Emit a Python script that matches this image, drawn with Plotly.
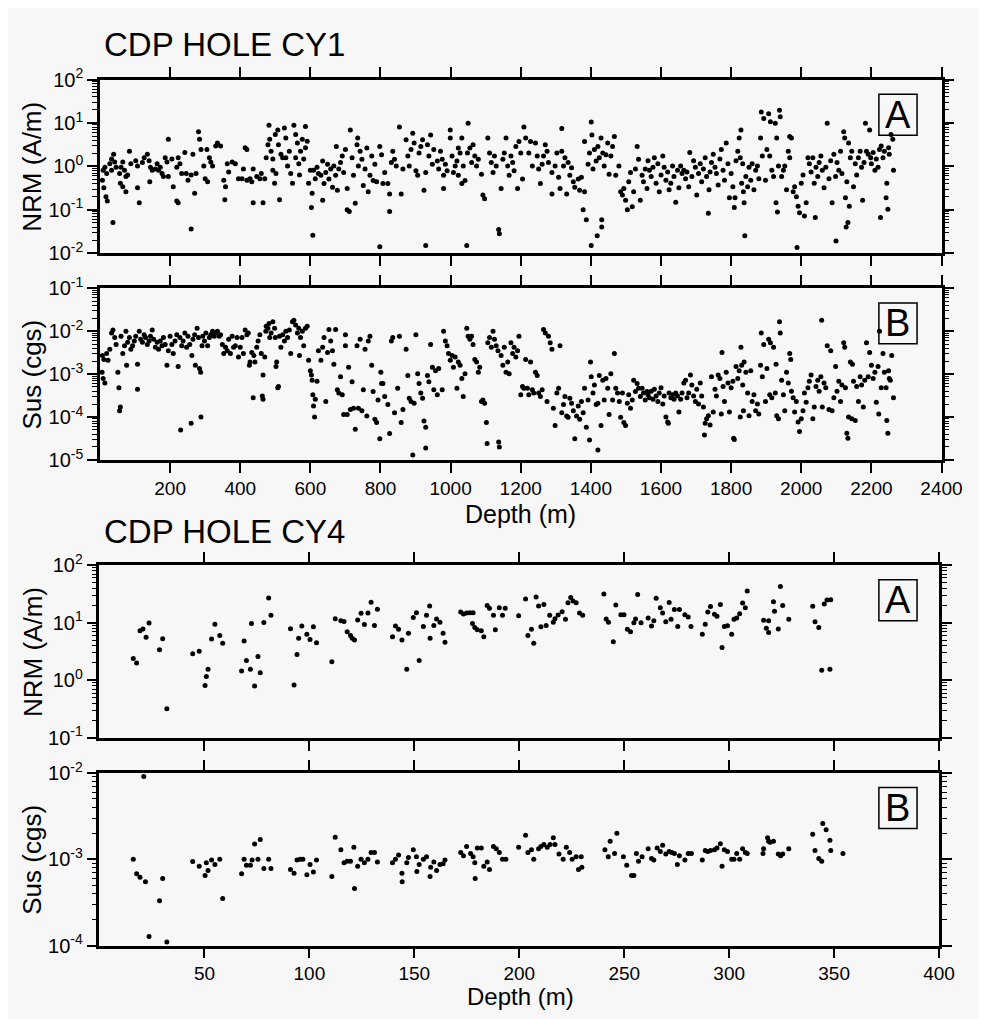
import plotly.graph_objects as go

# ---------------- DATA ----------------
# CDP hole CY1: (depth m, NRM A/m)
cy1_nrm_points = [
    (9,0.81),(14,0.95),(19,0.68),(7,0.48),(11,0.32),(17,0.2),(21,0.16),(37,0.051),(28,1.15),(33,1.48),
    (39,1.9),(42,1.26),(46,0.95),(33,0.81),(56,0.68),(60,0.95),(65,1.26),(70,0.81),(74,0.58),(58,0.41),
    (65,0.34),(74,0.26),(84,2.24),(79,0.63),(88,1.15),(102,1.35),(107,1.02),(112,0.145),(107,0.32),(121,1.23),
    (126,1.58),(135,1.9),(140,1.35),(144,0.95),(149,0.81),(142,0.44),(158,0.87),(163,1.15),(167,0.81),(172,0.95),
    (177,0.68),(181,0.58),(186,1.58),(191,1.26),(195,4.2),(195,0.58),(205,1.48),(209,0.34),(219,0.95),(219,0.16),
    (223,0.145),(223,1.58),(228,1.15),(233,0.68),(242,2.09),(246,0.68),(251,0.48),(260,0.036),(260,0.63),(265,1.9),
    (270,0.24),(274,0.68),(281,6.3),(284,4.2),(288,2.45),(296,1.02),(300,0.52),(305,2.45),(307,0.44),(312,1.58),
    (316,1.26),(321,1.02),(330,2.95),(335,3.47),(344,2.95),(353,0.48),(356,0.17),(358,0.34),(363,1.15),(367,0.74),
    (377,1.26),(386,1.15),(395,0.52),(405,0.52),(409,0.87),(414,2.69),(419,2.45),(419,0.48),(428,0.52),(433,0.44),
    (437,0.87),(437,0.145),(447,0.58),(456,0.52),(460,0.68),(465,0.145),(470,0.52),(474,1.58),(479,3.16),(482,8.9),
    (484,4.2),(488,2.24),(493,1.48),(493,0.81),(498,0.41),(500,5.4),(502,0.68),(507,6.9),(509,3.16),(512,0.17),
    (516,1.9),(521,1.58),(526,7.6),(530,4.5),(530,1.58),(535,1.02),(540,2.24),(544,0.68),(549,0.41),(553,8.9),
    (558,5.4),(558,1.58),(563,3.47),(567,1.15),(569,0.63),(572,2.24),(577,4.2),(581,1.48),(586,8.3),(586,2.69),
    (591,3.8),(595,0.41),(600,0.81),(603,0.112),(605,0.24),(607,0.026),(609,0.81),(614,0.52),(619,0.95),(623,0.68),
    (630,0.62),(635,1.32),(639,0.4),(635,0.166),(644,0.72),(649,1.12),(653,0.51),(658,0.87),(663,0.33),(667,1.02),
    (672,0.62),(674,2.88),(677,0.28),(681,0.87),(686,1.23),(691,1.74),(695,0.72),(700,2.45),(705,0.31),(705,0.1),
    (711,0.091),(714,6.9),(719,1.58),(723,0.62),(728,0.141),(733,3.16),(735,4.5),(737,1.02),(742,2.24),(747,1.45),
    (751,0.36),(756,0.87),(761,2.63),(765,0.26),(770,0.62),(775,1.74),(779,0.47),(784,1.12),(789,0.44),(798,2.88),
    (798,0.014),(803,1.86),(807,0.4),(812,0.72),(821,0.4),(826,0.23),(826,0.091),(831,1.23),(835,2.24),(840,1.45),
    (845,1.02),(854,8.1),(859,0.23),(864,0.87),(873,4.1),(878,1.74),(882,1.02),(887,2.45),(892,5.75),(896,3.47),
    (901,0.79),(906,0.62),(910,2.04),(915,2.88),(920,4.1),(924,0.28),(929,0.015),(929,0.72),(934,3.16),(938,1.74),
    (943,5.25),(948,1.12),(952,2.45),(962,1.32),(966,0.87),(971,2.24),(976,1.45),(980,0.62),(980,0.31),(985,1.12),
    (990,0.79),(999,6.9),(999,4.5),(1004,1.74),(1008,0.72),(1013,1.02),(1018,1.32),(1022,2.63),(1022,0.62),(1027,2.04),
    (1032,4.5),(1032,0.4),(1036,1.02),(1041,0.47),(1046,0.015),(1048,2.04),(1050,9.8),(1055,2.63),(1060,1.23),(1064,3.16),
    (1069,1.74),(1074,1.02),(1079,1.45),(1088,0.66),(1092,0.22),(1097,0.18),(1106,4.5),(1111,2.04),(1116,1.23),(1121,0.72),
    (1125,1.74),(1130,1.02),(1137,0.035),(1139,0.028),(1144,0.31),(1149,1.45),(1153,2.04),(1158,4.5),(1163,1.02),(1167,0.62),
    (1172,1.74),(1177,1.23),(1181,0.79),(1186,2.88),(1191,0.31),(1195,3.72),(1200,2.04),(1205,0.51),(1209,8.1),(1214,4.5),
    (1223,2.04),(1228,3.72),(1233,1.02),(1242,3.47),(1247,1.74),(1251,0.87),(1256,0.4),(1261,1.12),(1265,1.74),(1270,3.16),
    (1275,2.24),(1279,1.23),(1289,0.72),(1289,0.23),(1298,1.02),(1303,2.04),(1308,0.56),(1312,0.31),(1317,7.4),(1317,2.24),
    (1322,1.02),(1326,1.58),(1331,0.23),(1335,1.23),(1340,0.62),(1345,0.93),(1350,0.44),(1354,0.33),(1364,0.51),(1368,0.28),
    (1373,0.56),(1378,0.1),(1382,3.72),(1382,0.26),(1387,0.059),(1392,1.12),(1396,2.04),(1401,10.5),(1401,0.015),(1403,5.25),
    (1406,0.87),(1410,2.45),(1415,1.32),(1418,0.025),(1420,2.88),(1424,1.58),(1429,4.5),(1431,0.059),(1431,0.04),(1434,2.04),
    (1438,1.02),(1443,1.86),(1448,3.47),(1452,0.66),(1457,1.74),(1462,2.88),(1467,4.9),(1471,0.62),(1480,1.02),(1485,0.26),
    (1490,0.22),(1494,0.31),(1499,0.166),(1504,0.1),(1508,0.44),(1513,0.72),(1518,0.117),(1522,0.26),(1527,0.87),(1532,2.88),
    (1536,1.45),(1541,0.166),(1546,0.62),(1550,0.44),(1555,0.87),(1560,0.31),
    (1563,1.35),(1567,0.81),(1572,0.58),(1577,0.95),(1581,1.58),(1586,0.41),(1591,1.15),(1595,0.26),(1600,0.63),(1605,1.74),
    (1609,0.95),(1614,0.48),(1619,0.74),(1623,0.29),(1628,0.41),(1633,1.02),(1637,0.58),(1642,0.148),(1647,0.81),(1651,0.32),
    (1656,1.02),(1660,0.68),(1665,0.81),(1670,0.52),(1674,0.74),(1679,0.34),(1682,2.09),(1688,0.58),(1693,1.35),(1698,0.95),
    (1702,0.22),(1707,0.68),(1712,1.15),(1716,0.44),(1721,0.87),(1726,1.58),(1730,0.58),(1735,0.083),(1737,0.29),(1740,0.74),
    (1744,1.23),(1749,1.9),(1754,0.95),(1758,0.68),(1763,0.37),(1768,1.48),(1772,2.45),(1777,0.81),(1781,0.48),(1786,3.47),
    (1791,1.15),(1795,0.19),(1800,0.68),(1805,0.34),(1809,0.112),(1811,0.19),(1814,1.35),(1819,2.24),(1823,4.5),(1826,1.58),
    (1828,6.9),(1830,0.41),(1833,1.15),(1835,0.26),(1837,0.145),(1839,0.025),(1842,0.58),(1847,0.34),(1851,0.95),(1856,0.48),
    (1860,1.15),(1865,0.29),(1870,0.81),(1875,1.02),(1879,0.52),(1884,4.5),(1886,17.8),(1889,1.74),(1893,12.6),(1898,0.48),
    (1902,2.45),(1907,16.2),(1910,1.74),(1912,10.7),(1916,0.81),(1921,0.58),(1926,9.8),(1928,0.145),(1930,4.5),(1932,0.089),
    (1935,1.02),(1938,19.5),(1940,13.8),(1944,0.58),(1949,0.81),(1953,1.02),(1958,0.29),(1963,2.24),(1967,1.58),(1967,4.9),
    (1972,4.5),(1977,0.26),(1981,0.34),(1986,0.2),(1988,0.0135),(1991,0.12),(1995,0.085),(2000,0.41),(2005,0.63),(2009,0.072),
    (2014,0.145),(2019,1.58),(2023,1.15),(2028,0.74),(2033,1.58),(2037,0.41),(2040,0.066),(2042,0.95),(2047,0.58),(2051,1.23),
    (2056,1.74),(2060,0.81),(2065,0.32),(2070,0.95),(2074,9.8),(2079,0.52),(2084,1.35),(2088,0.145),(2093,1.9),(2098,0.58),
    (2099,0.019),(2102,1.23),(2107,0.81),(2112,2.24),(2116,0.68),(2121,6.3),(2124,4.5),(2126,0.19),(2128,0.04),(2130,0.44),
    (2133,0.051),(2135,3.47),(2137,0.12),(2140,1.58),(2144,2.24),(2149,0.34),(2154,1.15),(2158,0.63),(2163,1.58),(2168,2.24),
    (2172,0.95),(2175,0.166),(2179,1.23),(2183,9.8),(2186,2.24),(2191,1.9),(2195,6.9),(2198,1.58),(2200,1.15),(2205,2.09),
    (2210,0.81),(2214,1.48),(2219,0.95),(2223,2.45),(2226,0.066),(2228,2.95),(2233,1.58),(2237,2.24),(2242,0.19),(2244,0.41),
    (2247,0.102),(2249,2.69),(2251,1.9),(2256,5.4),(2261,4.2),(2263,0.81),
]

# CDP hole CY1: (depth m, susceptibility cgs)
cy1_sus_points = [
    (7,2.7e-3),(11,2.2e-3),(6,1.1e-3),(9,7.9e-4),(14,6.2e-4),(19,3.0e-3),(23,2.1e-3),(28,3.8e-3),(33,9.1e-3),(37,1.07e-2),
    (42,7.1e-3),(46,4.9e-3),(51,1.1e-3),(54,4.8e-4),(56,1.4e-4),(58,1.7e-4),(60,7.6e-3),(65,3.0e-3),(70,4.6e-3),(74,1.0e-2),
    (76,1.6e-3),(79,5.5e-3),(84,7.1e-3),(88,3.8e-3),(93,4.6e-3),(98,5.9e-3),(102,7.6e-3),(107,1.7e-3),(107,4.4e-4),(112,1.0e-2),
    (116,6.5e-3),(121,5.5e-3),(126,8.3e-3),(130,7.1e-3),(135,4.9e-3),(140,5.9e-3),(144,7.6e-3),(149,1.07e-2),(153,6.5e-3),(158,4.2e-3),
    (163,5.5e-3),(167,3.8e-3),(172,5.9e-3),(177,4.6e-3),(181,7.1e-3),(186,4.9e-3),(191,1.6e-3),(195,3.5e-3),(200,7.6e-3),(205,4.9e-3),
    (209,3.0e-3),(214,5.9e-3),(219,8.3e-3),(223,1.5e-3),(228,7.1e-3),(230,5.0e-5),(233,4.6e-3),(237,5.9e-3),(242,9.1e-3),(247,4.2e-3),
    (251,7.6e-3),(256,4.9e-3),(260,7.1e-5),(262,2.7e-3),(265,6.5e-3),(270,8.3e-3),(272,1.6e-3),(277,1.17e-2),(281,7.1e-3),(284,1.35e-3),
    (287,1.1e-3),(288,1.0e-4),(291,4.6e-3),(293,7.6e-3),(298,5.9e-3),(302,9.1e-3),(307,4.6e-3),(312,7.1e-3),(316,8.3e-3),(321,1.0e-2),
    (326,7.6e-3),(330,9.1e-3),(335,1.0e-2),(340,7.6e-3),(344,8.3e-3),(349,4.9e-3),(353,3.0e-3),(358,4.2e-3),(363,3.5e-3),(367,6.5e-3),
    (372,3.0e-3),(377,7.6e-3),(381,4.2e-3),(386,4.6e-3),(391,7.1e-3),(395,2.5e-3),(400,4.2e-3),(405,7.1e-3),(409,3.0e-3),(414,1.07e-2),
    (419,8.3e-3),(423,9.1e-3),(426,1.6e-3),(428,1.9e-3),(433,3.2e-3),(437,2.8e-4),(439,2.7e-3),(442,1.9e-3),(447,4.2e-3),(451,5.9e-3),
    (456,8.3e-3),(460,3.0e-3),(463,3.1e-4),(465,2.6e-4),(465,9.5e-4),(470,2.5e-3),(473,1.0e-2),(474,1.3e-2),(479,1.17e-2),(482,1.5e-2),
    (484,7.1e-3),(488,9.1e-3),(493,1.66e-2),(498,1.17e-2),(500,7.1e-3),(502,1.5e-3),(504,1.9e-3),(507,4.8e-4),(509,5.1e-4),(512,7.6e-3),
    (516,4.2e-3),(521,8.3e-3),(526,5.9e-3),(530,1.0e-2),(535,7.1e-3),(540,1.07e-2),(544,3.0e-3),(549,1.66e-2),(553,1.8e-2),(558,1.4e-2),
    (563,9.1e-3),(567,1.17e-2),(569,2.7e-3),(572,7.1e-3),(577,1.0e-2),(581,4.6e-3),(586,1.17e-2),(591,1.3e-2),(595,2.1e-3),(600,1.2e-3),
    (603,9.5e-4),(605,7.2e-4),(607,3.3e-4),(609,1.8e-4),(612,1.0e-4),(614,2.6e-4),(619,6.8e-4),(623,3.5e-3),
    (630,2.1e-3),(635,4.2e-3),(639,7.1e-3),(644,2.3e-4),(649,3.2e-3),(653,1.1e-2),(658,5.9e-3),(663,3.5e-3),(667,1.7e-3),(672,1.1e-2),
    (677,4.3e-4),(681,3.6e-4),(686,8.7e-4),(691,3.3e-4),(695,1.15e-4),(700,8.3e-3),(700,4.6e-3),(705,1.15e-4),(709,1.45e-3),(714,1.5e-4),
    (719,6.6e-4),(723,1.6e-4),(728,5.2e-5),(733,4.6e-3),(737,1.6e-4),(742,6.5e-3),(747,1.4e-4),(751,4.3e-4),(756,3.8e-3),(761,1.05e-4),
    (765,5.9e-3),(770,7.6e-3),(775,1.6e-3),(779,3.9e-4),(784,8.9e-5),(789,7.4e-5),(793,2.5e-4),(798,3.1e-5),(801,1.1e-3),(803,6.0e-4),
    (807,6.0e-4),(812,3.0e-4),(821,1.95e-4),(826,4.1e-5),(831,5.9e-3),(835,7.1e-3),(840,1.26e-4),(849,4.7e-4),(854,7.6e-3),(859,7.4e-5),
    (864,1.5e-4),(873,3.8e-3),(878,9.3e-4),(882,2.75e-4),(887,2.3e-4),(892,1.3e-5),(896,2.1e-4),(901,8.3e-3),(906,1.02e-3),(910,6.0e-4),
    (915,3.6e-4),(920,2.75e-4),(924,8.1e-5),(929,1.9e-5),(929,5.8e-5),(934,9.3e-4),(938,6.6e-4),(943,4.9e-3),(948,1.45e-3),(952,4.3e-4),
    (957,1.2e-3),(962,3.3e-4),(966,1.35e-3),(976,4.3e-4),(980,1.0e-2),(985,5.9e-3),(990,4.6e-3),(994,3.0e-3),(999,2.1e-3),(1004,2.7e-3),
    (1008,1.45e-3),(1013,2.5e-3),(1018,4.7e-4),(1022,1.9e-3),(1027,1.6e-3),(1032,7.9e-4),(1036,3.0e-4),(1041,1.02e-3),(1046,1.17e-2),(1050,7.6e-3),
    (1055,6.5e-3),(1060,7.6e-3),(1064,4.9e-3),(1069,2.2e-3),(1074,1.9e-3),(1079,1.1e-3),(1083,1.45e-3),(1088,2.3e-4),(1092,2.5e-4),(1097,2.1e-4),
    (1102,7.4e-5),(1104,2.4e-5),(1106,5.4e-3),(1111,7.1e-3),(1116,4.2e-3),(1121,1.0e-2),(1125,6.5e-3),(1130,4.6e-3),(1135,3.5e-3),(1137,2.6e-5),
    (1139,2.0e-5),(1144,2.7e-3),(1149,1.6e-3),(1153,4.2e-3),(1158,1.1e-3),(1163,1.9e-3),(1167,1.02e-3),(1172,5.4e-3),(1177,3.0e-3),(1181,4.2e-3),
    (1186,2.5e-3),(1191,3.5e-3),(1195,7.6e-3),(1200,3.3e-4),(1205,5.1e-4),(1209,4.7e-4),(1214,2.2e-3),(1219,4.7e-4),(1223,3.3e-4),(1228,1.9e-3),
    (1233,4.3e-4),(1237,3.6e-4),(1242,1.1e-3),(1247,9.3e-4),(1251,3.6e-4),(1256,3.0e-4),(1261,4.3e-4),(1265,1.1e-2),(1270,9.1e-3),(1275,2.3e-4),
    (1279,7.6e-3),(1284,5.4e-3),(1289,3.8e-3),(1293,1.6e-4),(1298,6.3e-5),(1303,3.6e-4),(1308,4.7e-4),(1312,4.6e-3),(1317,1.26e-4),(1322,1.95e-4),
    (1326,3.0e-4),(1331,1.05e-4),(1335,9.8e-5),(1340,2.75e-4),(1345,2.1e-4),(1350,1.4e-4),(1354,3.1e-5),(1359,1.05e-4),(1364,1.8e-4),(1368,8.9e-5),
    (1373,2.3e-4),(1378,1.26e-4),(1382,4.7e-4),(1387,5.8e-5),(1392,2.5e-4),(1396,2.9e-5),(1399,1.9e-3),(1401,8.7e-4),(1406,3.6e-4),(1410,5.6e-4),
    (1415,1.95e-4),(1420,1.7e-5),(1420,2.1e-4),(1424,9.3e-4),(1429,6.3e-5),(1434,7.2e-4),(1438,2.5e-4),(1443,7.9e-4),(1448,4.7e-4),(1452,1.15e-4),
    (1457,1.02e-3),(1462,2.5e-4),(1467,3.0e-3),(1471,4.7e-4),(1476,3.6e-4),(1481,2.3e-4),(1485,9.8e-5),(1490,3.6e-4),(1494,7.4e-5),(1499,6.3e-5),
    (1504,2.1e-4),(1508,3.3e-4),(1513,1.6e-4),(1518,2.5e-4),(1522,7.2e-4),(1527,3.9e-4),(1532,6.0e-4),(1536,4.7e-4),(1541,3.0e-4),(1546,4.7e-4),
    (1550,3.6e-4),(1555,2.5e-4),(1560,3.9e-4),
    (1563,3.3e-4),(1567,2.8e-4),(1572,4.0e-4),(1577,2.6e-4),(1581,4.4e-4),(1586,3.1e-4),(1591,2.3e-4),(1595,3.6e-4),(1600,4.8e-4),(1605,2.0e-4),
    (1609,3.1e-4),(1614,1.0e-4),(1619,7.6e-5),(1621,7.1e-5),(1623,3.6e-4),(1628,2.8e-4),(1633,3.3e-4),(1637,2.6e-4),(1642,3.6e-4),(1647,3.1e-4),
    (1651,1.3e-4),(1656,2.6e-4),(1660,3.6e-4),(1665,6.2e-4),(1670,7.2e-4),(1674,2.8e-4),(1679,3.6e-4),(1684,9.5e-4),(1688,5.6e-4),(1693,3.1e-4),
    (1698,2.3e-4),(1702,4.4e-4),(1707,2.0e-4),(1712,6.2e-4),(1716,3.1e-4),(1721,1.7e-4),(1724,3.8e-5),(1726,7.1e-5),(1730,9.1e-5),(1735,1.07e-4),
    (1740,6.5e-5),(1744,8.7e-4),(1749,1.3e-4),(1754,4.4e-4),(1758,3.1e-4),(1763,9.5e-4),(1768,7.9e-4),(1772,1.17e-4),(1774,3.2e-3),(1777,5.1e-4),
    (1781,2.3e-4),(1786,1.1e-3),(1791,6.2e-4),(1795,1.3e-4),(1800,4.8e-4),(1805,6.8e-4),(1807,3.2e-5),(1809,3.0e-5),(1814,1.5e-3),(1819,7.9e-4),
    (1823,1.2e-3),(1826,1.0e-4),(1828,4.2e-3),(1830,1.6e-3),(1833,5.6e-4),(1835,1.4e-4),(1837,1.9e-3),(1842,1.1e-3),(1847,3.6e-4),(1851,1.07e-4),
    (1856,1.2e-3),(1860,2.3e-4),(1865,3.3e-4),(1870,1.4e-4),(1875,2.0e-4),(1879,1.17e-4),(1884,1.6e-3),(1886,9.1e-3),(1889,8.7e-4),(1893,4.9e-3),
    (1898,2.3e-4),(1902,1.35e-3),(1907,6.5e-3),(1910,3.3e-4),(1912,5.4e-3),(1916,2.8e-4),(1921,4.2e-3),(1926,3.6e-4),(1928,1.7e-3),(1930,1.07e-4),
    (1935,9.1e-5),(1938,1.66e-2),(1940,9.1e-3),(1944,7.2e-4),(1949,3.3e-4),(1953,1.4e-4),(1958,1.1e-3),(1963,6.2e-4),(1967,3.0e-3),(1970,2.2e-3),
    (1972,4.0e-4),(1977,2.8e-4),(1981,1.3e-4),(1986,2.3e-4),(1991,7.6e-5),(1995,4.6e-5),(2000,9.1e-5),(2005,1.4e-4),(2009,3.6e-4),(2014,2.2e-4),
    (2019,4.8e-4),(2023,6.8e-4),(2028,9.5e-4),(2033,9.1e-5),(2037,1.7e-4),(2042,5.1e-4),(2047,7.2e-4),(2051,4.0e-4),(2056,8.7e-4),(2058,1.8e-2),
    (2060,1.7e-4),(2065,6.2e-4),(2070,4.8e-4),(2074,4.6e-3),(2079,1.5e-4),(2084,3.5e-3),(2088,1.4e-4),(2093,2.8e-4),(2098,1.5e-3),(2102,4.0e-4),
    (2107,6.8e-4),(2112,2.3e-4),(2116,5.6e-4),(2121,5.4e-3),(2124,4.2e-3),(2126,4.8e-4),(2130,4.2e-5),(2133,3.2e-5),(2135,1.0e-4),(2140,1.9e-3),
    (2144,9.1e-5),(2146,1.7e-3),(2149,6.8e-4),(2154,8.3e-5),(2158,5.1e-4),(2163,2.3e-4),(2168,8.7e-4),(2172,5.6e-4),(2177,1.7e-4),(2181,7.2e-4),
    (2186,5.4e-3),(2191,8.7e-4),(2195,3.2e-3),(2200,1.6e-3),(2205,7.9e-4),(2210,1.1e-3),(2214,2.2e-4),(2219,1.5e-3),(2221,1.17e-4),(2223,1.0e-2),
    (2228,4.8e-4),(2233,3.0e-3),(2237,1.1e-3),(2242,4.8e-4),(2244,8.3e-5),(2247,4.2e-5),(2249,1.2e-3),(2251,7.9e-4),(2254,7.2e-4),(2258,2.7e-3),
    (2263,2.8e-4),
]

# CDP hole CY4: (depth m, NRM A/m)
cy4_nrm_points = [
    (16.1,2.4),(17.7,2.0),(19.3,7.3),(20.7,7.8),(22.2,5.6),(23.6,9.9),(28.6,3.4),(30.1,5.3),(32.1,0.32),(44.4,2.9),
    (47.5,3.2),(50.3,0.81),(50.9,1.17),(51.7,1.55),(53.4,5.2),(55.0,9.4),(57.3,6.0),(58.7,4.4),(67.7,1.45),(68.9,4.8),
    (70.0,2.2),(71.9,1.55),(72.4,9.7),(73.9,0.8),(75.5,2.6),(76.6,1.35),(78.3,10.1),(80.6,27),(81.7,13.5),(91.0,7.9),
    (92.7,0.83),(94.1,2.8),(94.9,5.4),(96.4,8.8),(98.8,6.3),(100.3,5.1),(101.9,8.5),(103.4,4.5),
    (110.7,2.1),(112.3,11.8),(115,10.8),(116.5,10.5),(118,7.0),(119.6,6.0),(120.4,5.4),(121.5,5.0),(123,11.2),(124.6,14.6),
    (126.2,9.3),(127.9,14.8),(129.4,22.7),(131,9.0),(132.4,17.1),(139.6,5.7),(141,8.8),(142.5,7.7),(144.1,5.0),(146.4,1.55),
    (147.2,6.6),(149.5,12.3),(151,15.0),(152.3,2.2),(154.3,8.6),(155.8,13.5),(157.3,19.5),(157.5,5.4),(159.3,9.0),(160.6,11.6),
    (162.2,10.2),(163.7,6.6),(164.6,4.6),(172.1,15.4),(173.4,14.2),(174.9,14.8),(176.5,15.0),(178,15.0),(177.7,9.7),(178.8,8.3),
    (180,7.6),(181.9,7.3),(183.1,5.7),(184.7,20),(185.8,17.8),(187.7,13.5),(188.6,7.6),(190.5,18.3),(192,13.5),(193.3,17.8),
    (199.7,13.2),(203,26),(204.1,6.0),(205.8,7.7),(206.9,4.4),(208,28),(209.2,19.5),(210.3,8.5),(211.7,20.8),(212.8,9.0),
    (214.5,13.5),(216.2,10.2),(217,11.8),(218.5,13.7),(220.4,15.6),(222,11.5),(223.2,22.2),(224.5,27.6),(225.6,23.8),(227.1,22.2),
    (228.7,14.8),(230.2,13.5),(240.3,31.6),(241.4,11.6),(242.5,10.2),(244.8,4.7),(246,20.3),(248.4,13.8),(249.9,13.8),(251.5,7.7),
    (253,7.0),(254.6,10.0),(255.4,11.6),(256.4,31),(258,10.0),
    (261.4,12.1),(263,8.8),(264.1,10.8),(265.2,26.8),(267.2,18.2),(268.3,14.8),(269.8,10.4),(271.4,22.6),(272.3,11.5),(273.9,17.0),
    (275.5,8.6),(276.3,17.0),(278.9,13.8),(280.5,12.6),(281.8,8.6),(287.2,6.3),(288.6,9.4),(289.8,15.4),(291.1,19.1),(293,14.0),
    (294.2,13.0),(295.8,20.7),(296.6,3.7),(297.7,8.6),(299.2,8.9),(301.2,6.3),(302.3,11.5),(303.6,12.1),(305,14.4),(306.4,22),
    (307.7,18.2),(308.6,35.6),(316.4,11.1),(317.7,8.0),(318.8,10.8),(318.8,6.8),(321.1,23.3),(321.6,15.8),(323.4,7.8),(324.4,42.5),
    (325.5,19.9),(328.4,11.5),(339.8,19.4),(340.9,10.4),(342.7,8.3),(345.3,21.2),(346.6,24.8),(348.4,25),(344.1,1.5),(348,1.55),
]

# CDP hole CY4: (depth m, susceptibility cgs)
cy4_sus_points = [
    (16.1,1.0e-3),(17.7,6.8e-4),(19.3,6.2e-4),(21.9,5.5e-4),(23.6,1.27e-4),(28.6,3.3e-4),(30.1,6.0e-4),(32.1,1.1e-4),(21.1,9.1e-3),(44.4,9.4e-4),
    (47.5,8.3e-4),(50.3,6.5e-4),(50.9,9.1e-4),(51.7,7.4e-4),(53.4,9.8e-4),(55,8.7e-4),(57.3,1.0e-3),(58.7,3.5e-4),(67.7,6.8e-4),(68.9,1.0e-3),
    (70,8.5e-4),(71.9,8.5e-4),(72.7,9.8e-4),(73.9,1.5e-3),(75.5,1.0e-3),(76.6,1.7e-3),(78.3,7.8e-4),(80.6,1.0e-3),(81.7,7.8e-4),(91,7.6e-4),
    (92.7,6.9e-4),(94.1,9.8e-4),(95.6,1.0e-3),(96.9,1.0e-3),(98.8,6.6e-4),(100.3,8.7e-4),(101.9,7.1e-4),(103.4,9.8e-4),
    (110.7,6.3e-4),(112.3,1.8e-3),(115,1.29e-3),(116.5,9.1e-4),(118,9.5e-4),(119.6,9.5e-4),(121.2,1.38e-3),(121.5,4.6e-4),(123,8.3e-4),(124.6,1.0e-3),
    (126.2,9.1e-4),(127.9,1.0e-3),(129.4,1.2e-3),(131,1.2e-3),(132.4,9.3e-4),(139.6,9.1e-4),(141,1.0e-3),(142.5,1.12e-3),(144.1,6.9e-4),(144.2,5.5e-4),
    (146.4,9.1e-4),(147.2,1.05e-3),(149.5,1.29e-3),(151,1.07e-3),(151.2,7.2e-4),(152.3,8.7e-4),(154.3,1.0e-3),(155.8,1.07e-3),(157.5,6.3e-4),(157.8,8.1e-4),
    (159.3,9.3e-4),(160.6,7.4e-4),(162.2,8.7e-4),(163.7,8.9e-4),(164.6,9.8e-4),(172.1,1.2e-3),(173.4,1.1e-3),(174.9,1.41e-3),(176.8,1.17e-3),(178,1.07e-3),
    (178.8,9.1e-4),(179,6.0e-4),(180,1.35e-3),(181.9,1.35e-3),(183.1,8.3e-4),(184.7,9.3e-4),(185.8,7.6e-4),(187.7,1.41e-3),(189,1.32e-3),(190.5,1.2e-3),
    (192,1.0e-3),(193.6,1.0e-3),(199.7,1.38e-3),(203,1.9e-3),(204.1,1.2e-3),(205.8,1.29e-3),(206.9,1.0e-3),(209.2,1.32e-3),(210.3,1.41e-3),(211.7,1.48e-3),
    (213.3,1.38e-3),(214.7,1.48e-3),(216.2,1.78e-3),(217,1.48e-3),(218.9,1.15e-3),(220.9,1.0e-3),(222.4,1.38e-3),(224,1.2e-3),(225.2,1.0e-3),(227.1,1.07e-3),
    (228.2,7.6e-4),(229.8,8.1e-4),(229.5,1.07e-3),(240.8,1.29e-3),(243.3,1.62e-3),(242.4,1.07e-3),(245.4,1.17e-3),(246.5,2.0e-3),(249.6,1.07e-3),(251.2,8.5e-4),
    (253.5,6.5e-4),(254.6,6.5e-4),(255.8,1.17e-3),(256.8,9.5e-4),(258.5,1.07e-3),
    (261.4,1.32e-3),(263,1.02e-3),(264.1,9.8e-4),(265.7,1.35e-3),(267.2,1.23e-3),(268.3,1.45e-3),(269.8,1.15e-3),(271.4,1.23e-3),(272.7,1.2e-3),(273.9,1.17e-3),
    (275.3,8.7e-4),(276.3,1.1e-3),(278.9,9.8e-4),(280.5,1.17e-3),(282,1.17e-3),(287.2,9.8e-4),(288.6,1.26e-3),(289.8,1.23e-3),(291.1,1.26e-3),(293,1.29e-3),
    (294.2,1.35e-3),(295.8,1.51e-3),(296.6,8.3e-4),(297.7,1.29e-3),(299.2,1.23e-3),(301.2,1.0e-3),(302.3,1.0e-3),(303.6,1.17e-3),(305,1.0e-3),(306.4,1.32e-3),
    (307.7,1.2e-3),(308.6,1.17e-3),(316.1,1.17e-3),(316.4,1.32e-3),(318.3,1.78e-3),(319.5,1.58e-3),(321.1,1.62e-3),(318.8,1.62e-3),(323.4,1.15e-3),(324.5,1.1e-3),
    (325.5,1.15e-3),(328.4,1.32e-3),(339.8,1.95e-3),(340.9,1.26e-3),(342.7,1.02e-3),(344.1,9.5e-4),(344.6,2.6e-3),(346.2,2.2e-3),(348,1.66e-3),(348.4,1.26e-3),
    (354.2,1.17e-3),
]

# axis tick values / labels
cy1_depth_ticks = [200, 400, 600, 800, 1000, 1200, 1400, 1600, 1800, 2000, 2200, 2400]
cy4_depth_ticks = [50, 100, 150, 200, 250, 300, 350, 400]
nrm1_decades = [-2, -1, 0, 1, 2]
sus1_decades = [-5, -4, -3, -2, -1]
nrm4_decades = [-1, 0, 1, 2]
sus4_decades = [-4, -3, -2]

# ---------------- LAYOUT CONSTANTS ----------------
# the page body adds an 8 px margin, so the figure starts at (8, 8) in the screenshot
OFF = 8
W, H = 978, 1011
BG = "#f7f7f7"
FONT = "Liberation Sans, Arial, Helvetica, sans-serif"


def fx(p):
    return (p - OFF) / W


def fy(p):
    return 1 - (p - OFF) / H


def decade_ticks(decs):
    vals = [10.0 ** d for d in decs]
    text = ["10<sup>%d</sup>" % d for d in decs]
    minor = [k * 10.0 ** d for d in decs[:-1] for k in range(2, 10)]
    return vals, text, minor


# panel pixel boxes in screenshot coordinates: (left, right, top, bottom)
panels = [
    dict(box=(102, 962, 67, 245), pts=cy1_nrm_points, xr=[0, 2400], xt=cy1_depth_ticks, dec=nrm1_decades, lab=False, so=0),
    dict(box=(102, 962, 281, 457), pts=cy1_sus_points, xr=[0, 2400], xt=cy1_depth_ticks, dec=sus1_decades, lab=True, so=0),
    dict(box=(101.5, 959.5, 565, 742), pts=cy4_nrm_points, xr=[0, 400], xt=cy4_depth_ticks, dec=nrm4_decades, lab=False, so=0),
    dict(box=(101.5, 959.5, 778, 955), pts=cy4_sus_points, xr=[0, 400], xt=cy4_depth_ticks, dec=sus4_decades, lab=True, so=-1),
]

fig = go.Figure()
layout_axes = {}
for i, p in enumerate(panels, start=1):
    l, r, t, b = p["box"]
    sfx = "" if i == 1 else str(i)
    xs = [q[0] for q in p["pts"]]
    ys = [q[1] for q in p["pts"]]
    fig.add_trace(go.Scatter(
        x=xs, y=ys, mode="markers",
        marker=dict(size=5, color="black", line=dict(width=0)),
        xaxis="x" + sfx, yaxis="y" + sfx, showlegend=False, hoverinfo="skip",
    ))
    vals, text, minor = decade_ticks(p["dec"])
    layout_axes["xaxis" + sfx] = dict(
        domain=[fx(l), fx(r)], range=p["xr"], anchor="y" + sfx,
        tickmode="array", tickvals=p["xt"], ticktext=[str(v) for v in p["xt"]],
        showticklabels=p["lab"], ticks="outside", ticklen=10, tickwidth=1.5, tickcolor="black",
        ticklabelstandoff=p["so"],
        showline=True, linewidth=2.5, linecolor="black", mirror="ticks",
        showgrid=False, zeroline=False,
        tickfont=dict(family=FONT, size=19, color="black"),
    )
    layout_axes["yaxis" + sfx] = dict(
        domain=[fy(b), fy(t)], type="log", range=[p["dec"][0], p["dec"][-1]], anchor="x" + sfx,
        tickmode="array", tickvals=vals, ticktext=text,
        ticks="outside", ticklen=10, tickwidth=1.5, tickcolor="black",
        minor=dict(tickmode="array", tickvals=minor, ticks="outside", ticklen=5, tickwidth=1, tickcolor="black", showgrid=False),
        showline=True, linewidth=2.5, linecolor="black", mirror="ticks",
        showgrid=False, zeroline=False,
        tickfont=dict(family=FONT, size=20, color="black"),
    )

annotations = []
shapes = []


def text_ann(txt, x, y, size, xanchor="center", angle=0):
    annotations.append(dict(
        text=txt, x=fx(x), y=fy(y), xref="paper", yref="paper",
        xanchor=xanchor, yanchor="middle", showarrow=False, textangle=angle,
        font=dict(family=FONT, size=size, color="black"),
    ))


text_ann("CDP HOLE CY1", 104, 31, 33, xanchor="left")
text_ann("CDP HOLE CY4", 104, 530, 33, xanchor="left")
text_ann("Depth (m)", 532, 512, 25)
text_ann("Depth (m)", 532, 1007, 24)
for p, name in zip(panels, ["NRM (A/m)", "Sus (cgs)", "NRM (A/m)", "Sus (cgs)"]):
    l, r, t, b = p["box"]
    text_ann(name, 33, (t + b) / 2, 26, angle=-90)

for p, letter in zip(panels, ["A", "B", "A", "B"]):
    l, r, t, b = p["box"]
    shapes.append(dict(type="rect", xref="paper", yref="paper",
                       x0=fx(898), x1=fx(937), y0=fy(t + 57), y1=fy(t + 15),
                       line=dict(color="black", width=1.5), fillcolor="rgba(0,0,0,0)"))
    text_ann(letter, 917.5, t + 36, 38)

fig.update_layout(
    width=W, height=H,
    margin=dict(l=0, r=0, t=0, b=0),
    paper_bgcolor=BG, plot_bgcolor=BG,
    annotations=annotations, shapes=shapes,
    font=dict(family=FONT, color="black"),
    **layout_axes,
)

fig.write_html("out.html")
